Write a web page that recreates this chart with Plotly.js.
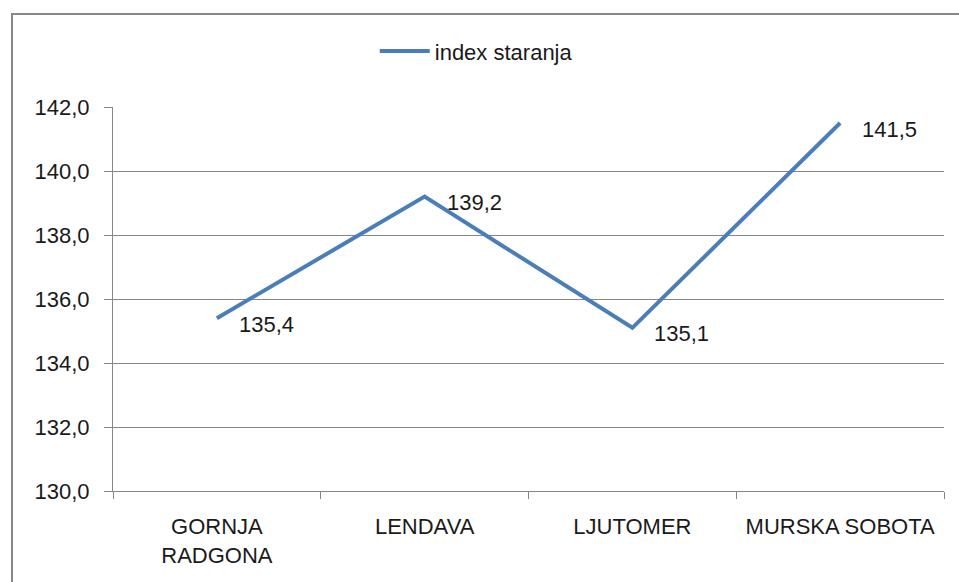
<!DOCTYPE html>
<html>
<head>
<meta charset="utf-8">
<script src="https://cdn.plot.ly/plotly-3.0.1.min.js"></script>
<style>
html,body{margin:0;padding:0;background:#fff;overflow:hidden;}
#chart{width:959px;height:582px;position:absolute;left:0;top:0;}
#frame{position:absolute;left:11px;top:13px;width:1000px;height:1000px;border:2px solid #878787;pointer-events:none;box-sizing:border-box;}
</style>
</head>
<body>
<div id="chart"></div>
<div id="frame"></div>
<script>
const categories = ["GORNJA<br>RADGONA", "LENDAVA", "LJUTOMER", "MURSKA SOBOTA"];
const values = [135.4, 139.2, 135.1, 141.5];
const seriesName = "index staranja";
const yTicks = [130, 132, 134, 136, 138, 140, 142];

const font = {family: "Liberation Sans, Arial, sans-serif", size: 22, color: "#1a1a1a"};

const labelAnnotations = categories.map((c, i) => ({
  x: c, y: values[i], xref: "x", yref: "y",
  text: values[i].toFixed(1).replace(".", ","),
  showarrow: false,
  xanchor: "left", yanchor: "middle",
  xshift: 20, yshift: -6,
  font: font
}));

Plotly.newPlot("chart", [{
  type: "scatter",
  mode: "lines",
  x: categories,
  y: values,
  name: seriesName,
  line: {color: "#4a7ebb", width: 4},
  cliponaxis: false
}], {
  width: 959, height: 582,
  margin: {l: 113, r: 15, t: 107, b: 91},
  paper_bgcolor: "#fff",
  plot_bgcolor: "#fff",
  separators: ",.",
  font: font,
  showlegend: true,
  annotations: labelAnnotations,
  legend: {
    orientation: "h",
    x: 0.315, xanchor: "left",
    y: 1.145, yanchor: "middle",
    itemwidth: 50,
    font: font,
    bgcolor: "rgba(0,0,0,0)"
  },
  xaxis: {
    type: "category",
    range: [-0.5, 3.5],
    tickson: "boundaries",
    ticks: "outside",
    ticklen: 7,
    tickcolor: "#868686",
    ticklabelstandoff: 16,
    showline: true,
    linecolor: "#868686",
    linewidth: 1,
    showgrid: false,
    tickfont: font,
    fixedrange: true
  },
  yaxis: {
    range: [130, 142],
    tickvals: yTicks,
    tickformat: ".1f",
    ticks: "outside",
    ticklen: 8,
    tickcolor: "#868686",
    ticklabelstandoff: 10,
    showline: true,
    linecolor: "#868686",
    linewidth: 1,
    showgrid: true,
    gridcolor: "#868686",
    gridwidth: 1,
    zeroline: false,
    tickfont: font,
    fixedrange: true
  }
}, {displayModeBar: false, staticPlot: true});
</script>
</body>
</html>
